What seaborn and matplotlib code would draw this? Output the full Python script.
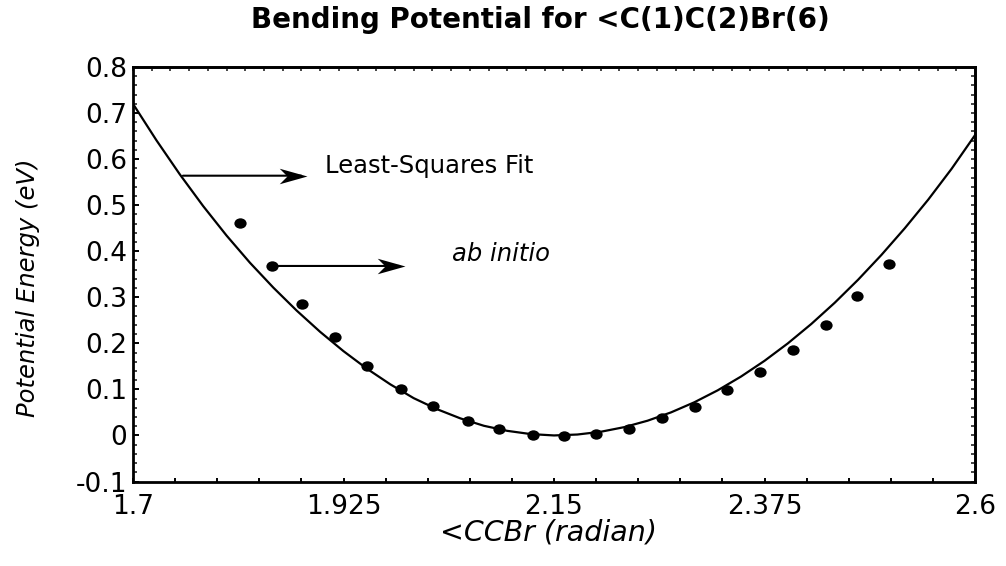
import matplotlib
matplotlib.use("Agg")
import matplotlib.pyplot as plt
from matplotlib.path import Path
from matplotlib.markers import MarkerStyle
from matplotlib.transforms import Affine2D
from matplotlib.ticker import FixedLocator, MultipleLocator, NullFormatter
import pandas as pd
import seaborn as sns

# ab initio energies along the C(1)-C(2)-Br(6) bending coordinate
angle_rad = [1.814, 1.849, 1.881, 1.916, 1.950, 1.986, 2.021, 2.058, 2.091, 2.128,
             2.161, 2.195, 2.230, 2.265, 2.301, 2.335, 2.370, 2.405, 2.441, 2.474, 2.508]
energy_ev = [0.461, 0.368, 0.285, 0.214, 0.151, 0.101, 0.064, 0.032, 0.014, 0.000,
             -0.002, 0.003, 0.014, 0.038, 0.062, 0.099, 0.138, 0.186, 0.240, 0.303, 0.372]

# least-squares fit, sampled across the plotted range
fit_angle = [1.700, 1.725, 1.750, 1.775, 1.800, 1.825, 1.850, 1.875, 1.900, 1.925,
             1.950, 1.975, 2.000, 2.025, 2.050, 2.075, 2.100, 2.125, 2.150, 2.175,
             2.200, 2.225, 2.250, 2.275, 2.300, 2.325, 2.350, 2.375, 2.400, 2.425,
             2.450, 2.475, 2.500, 2.525, 2.550, 2.575, 2.600]
fit_energy = [0.720, 0.641, 0.567, 0.498, 0.434, 0.375, 0.321, 0.271, 0.225, 0.183,
              0.145, 0.111, 0.081, 0.057, 0.037, 0.021, 0.010, 0.003, 0.000, 0.002,
              0.008, 0.018, 0.032, 0.050, 0.072, 0.098, 0.128, 0.162, 0.200, 0.242,
              0.288, 0.338, 0.392, 0.450, 0.512, 0.579, 0.652]

x_ticks = [1.7, 1.925, 2.15, 2.375, 2.6]
x_tick_labels = ["1.7", "1.925", "2.15", "2.375", "2.6"]
y_ticks = [-0.1, 0.0, 0.1, 0.2, 0.3, 0.4, 0.5, 0.6, 0.7, 0.8]
y_tick_labels = ["-0.1", "0", "0.1", "0.2", "0.3", "0.4", "0.5", "0.6", "0.7", "0.8"]

title = "Bending Potential for <C(1)C(2)Br(6)"
x_label = "<CCBr (radian)"
y_label = "Potential Energy (eV)"
fit_label = "Least-Squares Fit"
points_label = "ab initio"

sns.set_style("ticks")
plt.rcParams["font.family"] = ["DejaVu Sans"]
plt.rcParams["axes.linewidth"] = 2.0

W, H = 1006, 566
fig = plt.figure(figsize=(W / 100, H / 100), dpi=100)
ax = fig.add_axes([133 / W, 1 - 481.5 / H, (975 - 133) / W, (481.5 - 67) / H])

fit_df = pd.DataFrame({"angle": fit_angle, "energy": fit_energy})
pts_df = pd.DataFrame({"angle": angle_rad, "energy": energy_ev})

sns.lineplot(data=fit_df, x="angle", y="energy", ax=ax, color="black",
             linewidth=1.6, sort=True, estimator=None)

dot = MarkerStyle("o", transform=Affine2D().scale(1.18, 1.0))
sns.scatterplot(data=pts_df, x="angle", y="energy", ax=ax, marker=dot,
                s=56, color="black", edgecolor="black", linewidth=0, zorder=4)

ax.set_xlim(1.7, 2.6)
ax.set_ylim(-0.1, 0.8)
ax.set_xlabel("")
ax.set_ylabel("")

# frame ticks: labelled bottom/left, plain ticks on top/right
ax.xaxis.set_major_locator(FixedLocator(x_ticks))
ax.set_xticklabels(x_tick_labels)
ax.xaxis.set_minor_locator(FixedLocator([1.7 + 0.045 * i for i in range(21)]))
ax.yaxis.set_major_locator(FixedLocator(y_ticks))
ax.set_yticklabels(y_tick_labels)
ax.yaxis.set_minor_locator(MultipleLocator(0.02))

ax.tick_params(axis="x", which="both", direction="in", length=3.0, width=1.4,
               labelsize=19, pad=9, colors="black")
ax.tick_params(axis="y", which="major", direction="in", length=4.0, width=1.4,
               labelsize=19, pad=4, colors="black")
ax.tick_params(axis="y", which="minor", direction="in", length=3.0, width=1.2)

top = ax.secondary_xaxis("top")
top.xaxis.set_major_locator(MultipleLocator(0.02))
top.xaxis.set_major_formatter(NullFormatter())
top.tick_params(direction="in", length=3.0, width=1.2)
top.spines["top"].set_linewidth(2.0)

right = ax.secondary_yaxis("right")
right.yaxis.set_major_locator(MultipleLocator(0.02))
right.yaxis.set_major_formatter(NullFormatter())
right.tick_params(direction="in", length=3.0, width=1.2)
right.spines["right"].set_linewidth(2.0)

for side in ["left", "right", "top", "bottom"]:
    ax.spines[side].set_visible(True)
    ax.spines[side].set_linewidth(2.0)
    ax.spines[side].set_color("black")

# title and axis labels
fig.text(540 / W, 1 - 28 / H, title, ha="center", va="baseline",
         fontsize=20, fontweight="bold", color="black")
fig.text(548 / W, 1 - 540 / H, x_label, ha="center", va="baseline",
         fontsize=20.5, fontstyle="italic", color="black")
fig.text(28 / W, 1 - 288 / H, y_label, ha="center", va="center", rotation=90,
         fontsize=17.5, fontstyle="italic", color="black")

# annotation labels with barbed arrows
fig.text(325 / W, 1 - 173 / H, fit_label, ha="left", va="baseline",
         fontsize=17.5, color="black")
fig.text(452 / W, 1 - 261 / H, points_label, ha="left", va="baseline",
         fontsize=17.5, fontstyle="italic", color="black")

head = Path([(0, 0), (-1, 0.28), (-0.72, 0), (-1, -0.28), (0, 0)],
            [Path.MOVETO, Path.LINETO, Path.LINETO, Path.LINETO, Path.CLOSEPOLY])

fit_arrow_start = (1.7534, 0.564)
fit_arrow_tip = (1.8857, 0.564)
pts_arrow_start = (angle_rad[1], energy_ev[1])
pts_arrow_tip = (1.9907, energy_ev[1])

for start, tip in [(fit_arrow_start, fit_arrow_tip), (pts_arrow_start, pts_arrow_tip)]:
    ax.annotate("", xy=tip, xytext=start,
                arrowprops=dict(arrowstyle="-", color="black", lw=1.5,
                                shrinkA=0, shrinkB=4))
    ax.plot([tip[0]], [tip[1]], marker=head, markersize=40, color="black",
            markeredgewidth=0, linestyle="none", zorder=5)

fig.savefig("out.png", dpi=100)
